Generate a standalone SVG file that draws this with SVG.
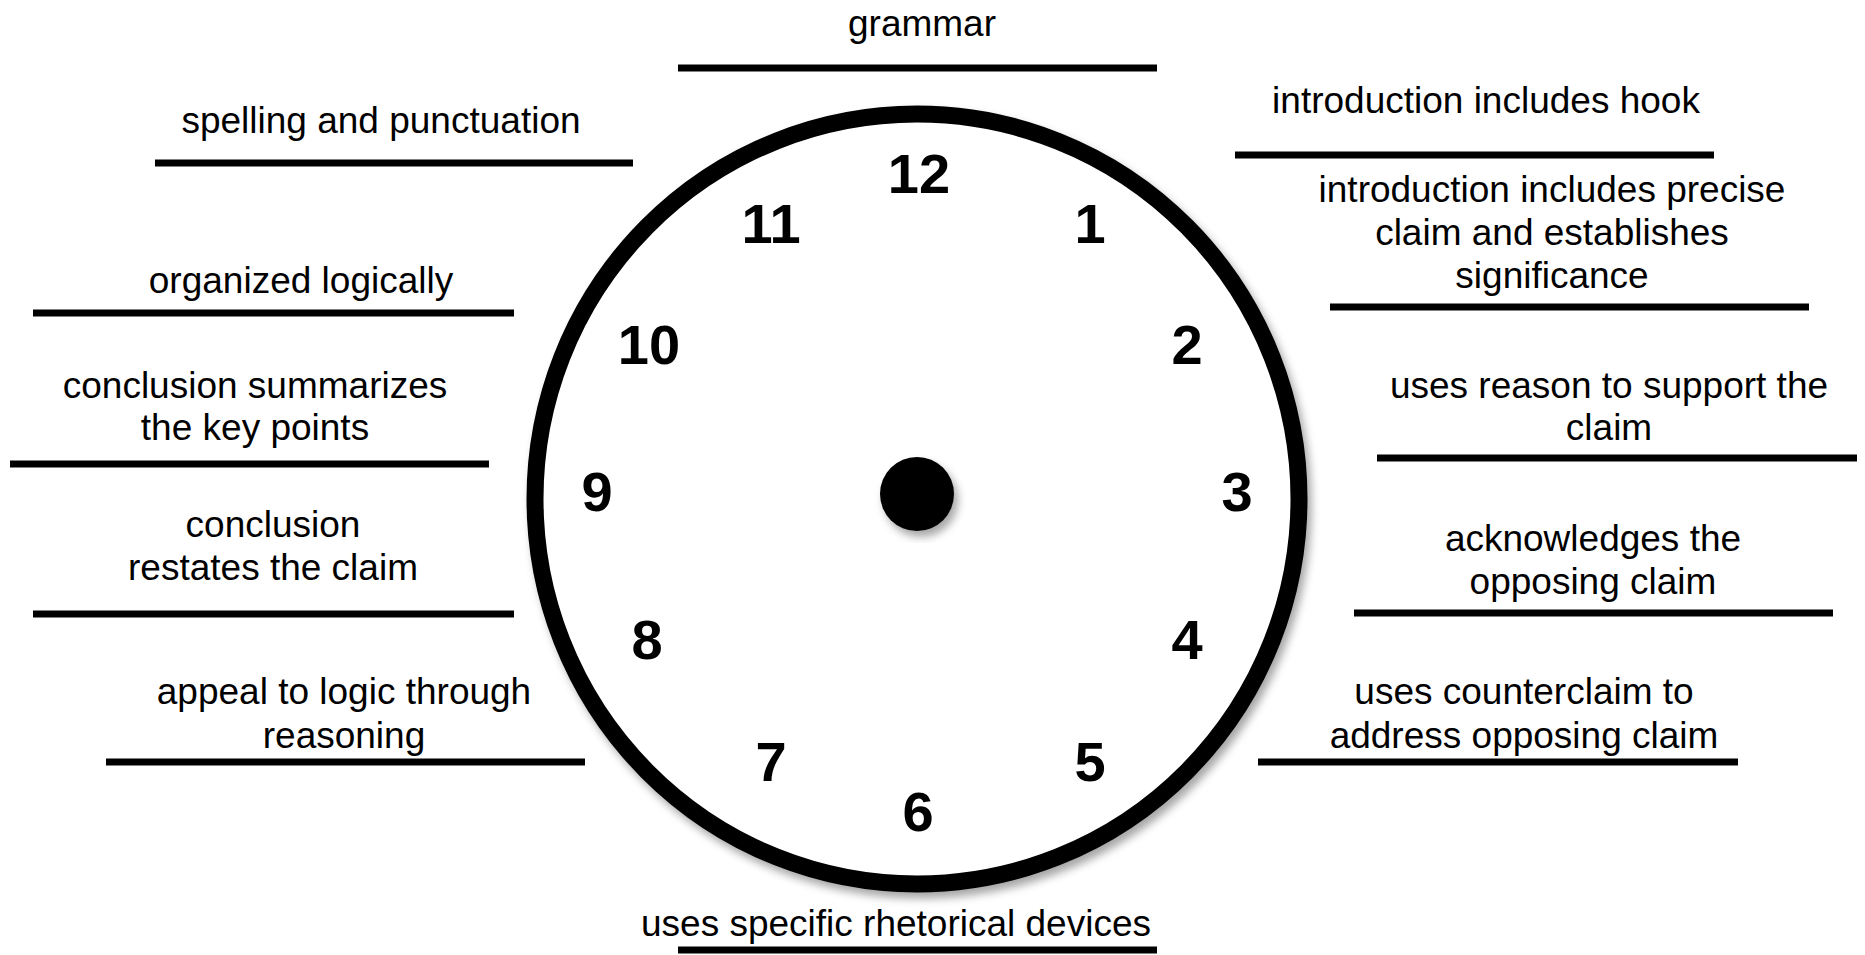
<svg xmlns="http://www.w3.org/2000/svg" width="1865" height="955" viewBox="0 0 1865 955">
<style>
.lbl{font-family:"Liberation Sans",Arial,sans-serif;font-size:37px;fill:#000;text-anchor:middle}
.num{font-family:"Liberation Sans",Arial,sans-serif;font-size:56px;font-weight:bold;fill:#000;text-anchor:middle}
.ln{stroke:#000;stroke-width:7}
</style>
<defs>
<filter id="sh" x="-10%" y="-10%" width="125%" height="125%">
<feDropShadow dx="4" dy="6" stdDeviation="4" flood-color="#000" flood-opacity="0.35"/>
</filter>
</defs>
<rect width="1865" height="955" fill="#fff"/>
<g id="clock">
<ellipse cx="917" cy="499" rx="382" ry="385" fill="#fff" stroke="#000" stroke-width="17" filter="url(#sh)"/>
<circle cx="917" cy="494" r="37" fill="#000" filter="url(#sh)"/>
<text class="num" x="919" y="193">12</text>
<text class="num" x="1090" y="243">1</text>
<text class="num" x="1187" y="364">2</text>
<text class="num" x="1237" y="511">3</text>
<text class="num" x="1187" y="659">4</text>
<text class="num" x="1090" y="781">5</text>
<text class="num" x="918" y="831">6</text>
<text class="num" x="771" y="781">7</text>
<text class="num" x="647" y="659">8</text>
<text class="num" x="597" y="511">9</text>
<text class="num" x="649" y="364">10</text>
<text class="num" x="771" y="243">11</text>
</g>
<g id="connectors">
<line class="ln" x1="678" y1="68" x2="1157" y2="68"/>
<line class="ln" x1="155" y1="163" x2="633" y2="163"/>
<line class="ln" x1="1235" y1="155" x2="1714" y2="155"/>
<line class="ln" x1="1330" y1="307" x2="1809" y2="307"/>
<line class="ln" x1="33" y1="313" x2="514" y2="313"/>
<line class="ln" x1="10" y1="464" x2="489" y2="464"/>
<line class="ln" x1="1377" y1="458" x2="1857" y2="458"/>
<line class="ln" x1="33" y1="614" x2="514" y2="614"/>
<line class="ln" x1="1354" y1="613" x2="1833" y2="613"/>
<line class="ln" x1="106" y1="762" x2="585" y2="762"/>
<line class="ln" x1="1258" y1="762" x2="1738" y2="762"/>
<line class="ln" x1="678" y1="950" x2="1157" y2="950"/>
</g>
<g id="n-grammar"><text class="lbl" x="922" y="36">grammar</text></g>
<g id="n-spelling"><text class="lbl" x="381" y="133">spelling and punctuation</text></g>
<g id="n-hook"><text class="lbl" x="1486" y="113">introduction includes hook</text></g>
<g id="n-precise"><text class="lbl" x="1552" y="202">introduction includes precise</text><text class="lbl" x="1552" y="245">claim and establishes</text><text class="lbl" x="1552" y="288">significance</text></g>
<g id="n-organized"><text class="lbl" x="301" y="293">organized logically</text></g>
<g id="n-summarizes"><text class="lbl" x="255" y="398">conclusion summarizes</text><text class="lbl" x="255" y="440">the key points</text></g>
<g id="n-reason"><text class="lbl" x="1609" y="398">uses reason to support the</text><text class="lbl" x="1609" y="440">claim</text></g>
<g id="n-restates"><text class="lbl" x="273" y="537">conclusion</text><text class="lbl" x="273" y="580">restates the claim</text></g>
<g id="n-acknowledges"><text class="lbl" x="1593" y="551">acknowledges the</text><text class="lbl" x="1593" y="594">opposing claim</text></g>
<g id="n-appeal"><text class="lbl" x="344" y="704">appeal to logic through</text><text class="lbl" x="344" y="748">reasoning</text></g>
<g id="n-counterclaim"><text class="lbl" x="1524" y="704">uses counterclaim to</text><text class="lbl" x="1524" y="748">address opposing claim</text></g>
<g id="n-devices"><text class="lbl" x="896" y="936">uses specific rhetorical devices</text></g>
</svg>
